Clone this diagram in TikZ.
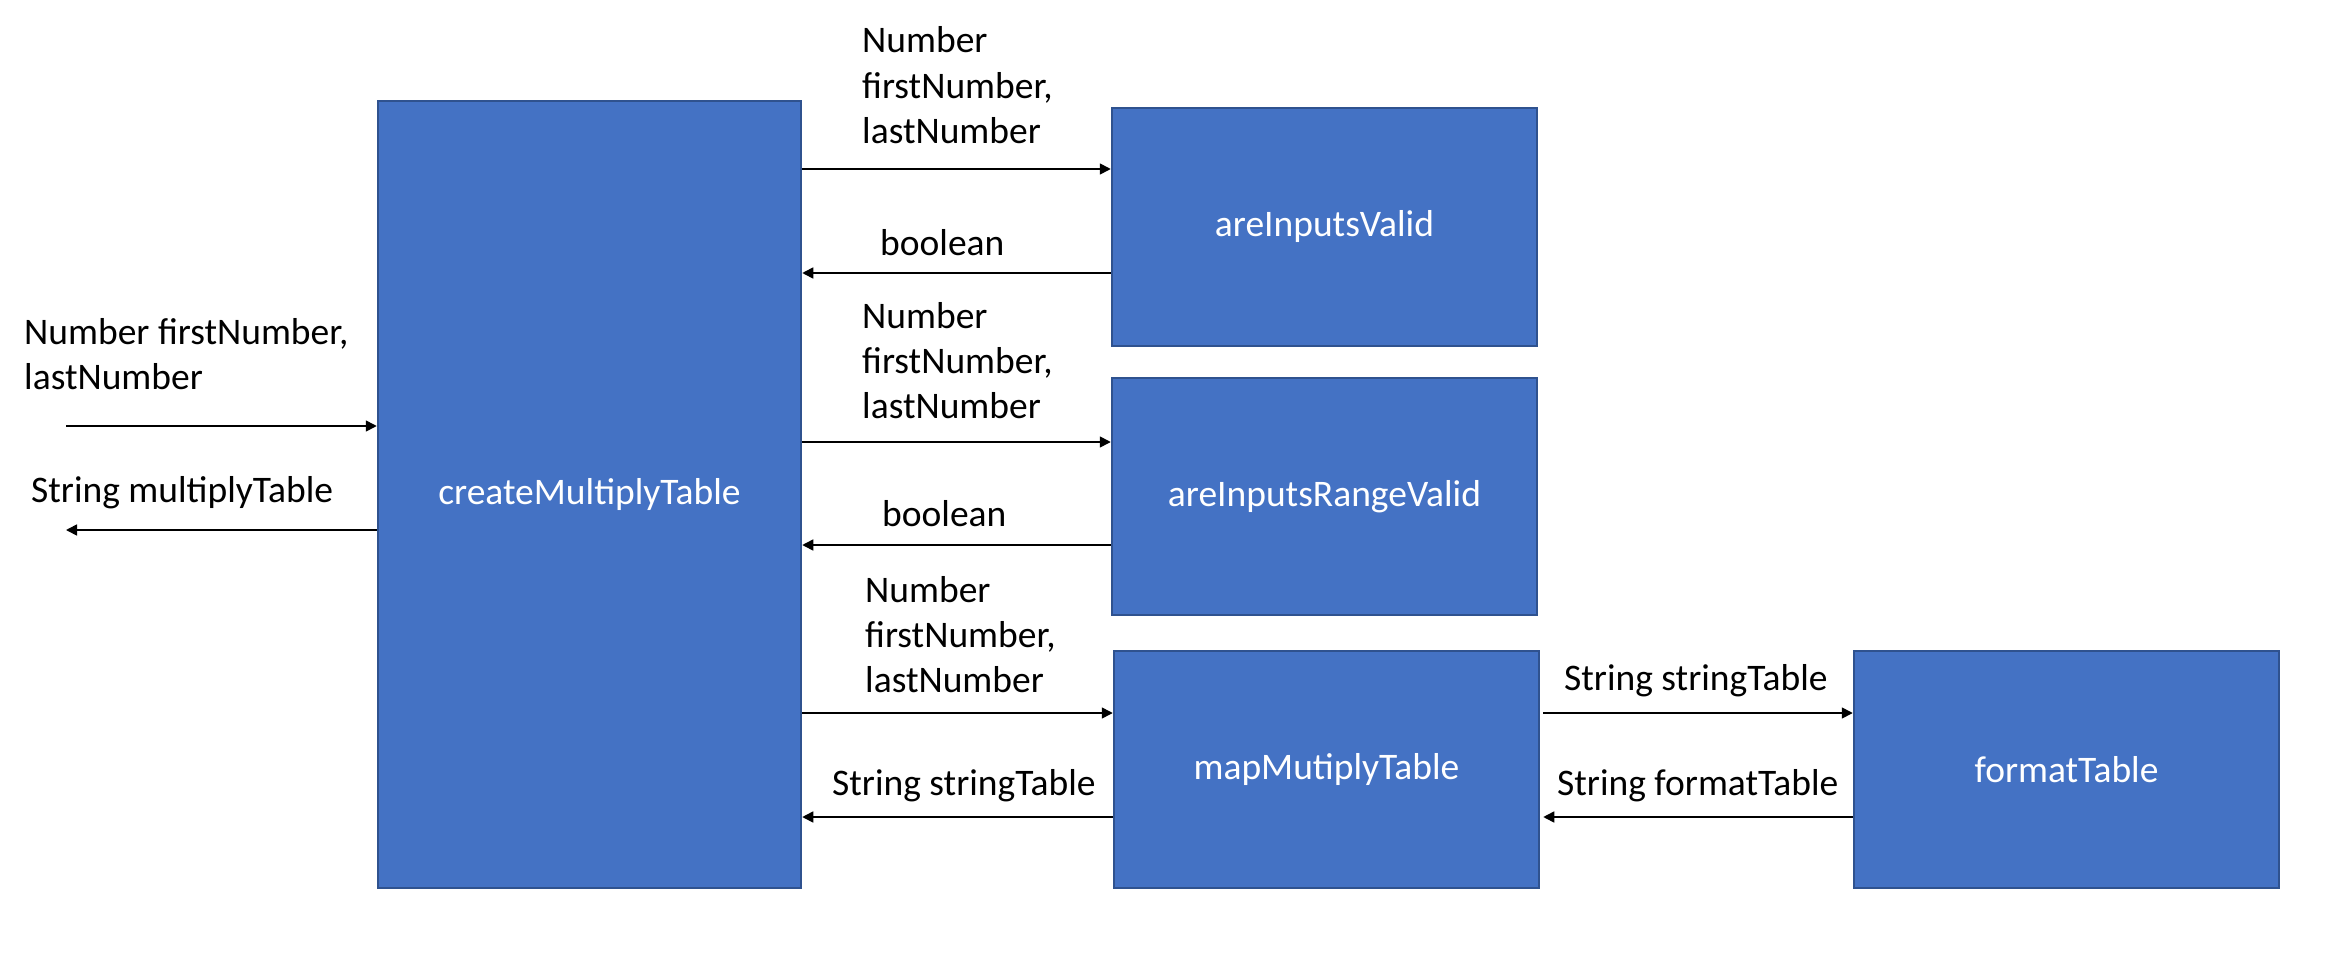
\documentclass[tikz,border=0pt]{standalone}
\usepackage{fontspec}
\setmainfont{Carlito}
\usetikzlibrary{arrows.meta}
\definecolor{boxfill}{HTML}{4472C4}
\definecolor{boxedge}{HTML}{2F528F}
\tikzset{
  fnbox/.style={draw=boxedge, line width=2.5pt, fill=boxfill, text=white, inner sep=0pt,
    font=\fontsize{37.5}{45}\selectfont},
  lbl/.style={anchor=base west, inner sep=0pt, align=left, font=\fontsize{37.5}{45}\selectfont},
  conn/.style={line width=1.6pt, -{Triangle[length=11pt,width=11pt]}}
}
\begin{document}
\begin{tikzpicture}[x=1pt,y=-1pt]
\useasboundingbox (0,0) rectangle (2329,971);
% boxes
\node[fnbox, minimum width=423pt, minimum height=787pt] (main) at (589.5,494.5) {createMultiplyTable};
\node[fnbox, minimum width=425pt, minimum height=238pt] (valid) at (1324.5,227) {areInputsValid};
\node[fnbox, minimum width=425pt, minimum height=237pt] (range) at (1324.5,496.5) {areInputsRangeValid};
\node[fnbox, minimum width=425pt, minimum height=237pt] (map) at (1326.5,769.5) {mapMutiplyTable};
\node[fnbox, minimum width=425pt, minimum height=237pt] (fmt) at (2066.5,769.5) {formatTable};
% free ends
\coordinate (inS) at (66,426);
\coordinate (outE) at (66,530);
% connectors
\draw[conn] (inS) -- (inS -| main.west);
\draw[conn] (main.west |- outE) -- (outE);
\draw[conn] (main.east |- 0,169) -- (valid.west |- 0,169);
\draw[conn] (valid.west |- 0,273) -- (main.east |- 0,273);
\draw[conn] (main.east |- 0,442) -- (range.west |- 0,442);
\draw[conn] (range.west |- 0,545) -- (main.east |- 0,545);
\draw[conn] (main.east |- 0,713) -- (map.west |- 0,713);
\draw[conn] (map.west |- 0,817) -- (main.east |- 0,817);
\draw[conn] ([xshift=3pt]map.east |- 0,713) -- (fmt.west |- 0,713);
\draw[conn] (fmt.west |- 0,817) -- ([xshift=3pt]map.east |- 0,817);
% labels (multi-line: anchored at the last line's baseline)
\node[lbl] (l1) at (24,389) {Number firstNumber,\\lastNumber};
\node[lbl] (l2) at (31,502) {String multiplyTable};
\node[lbl] (l3) at (862,143) {Number\\firstNumber,\\lastNumber};
\node[lbl] (l4) at (880,255) {boolean};
\node[lbl] (l5) at (862,418) {Number\\firstNumber,\\lastNumber};
\node[lbl] (l6) at (882,526) {boolean};
\node[lbl] (l7) at (865,692) {Number\\firstNumber,\\lastNumber};
\node[lbl] (l8) at (832,795) {String stringTable};
\node[lbl] (l9) at (1564,690) {String stringTable};
\node[lbl] (l10) at (1557,795) {String formatTable};
\end{tikzpicture}
\end{document}
